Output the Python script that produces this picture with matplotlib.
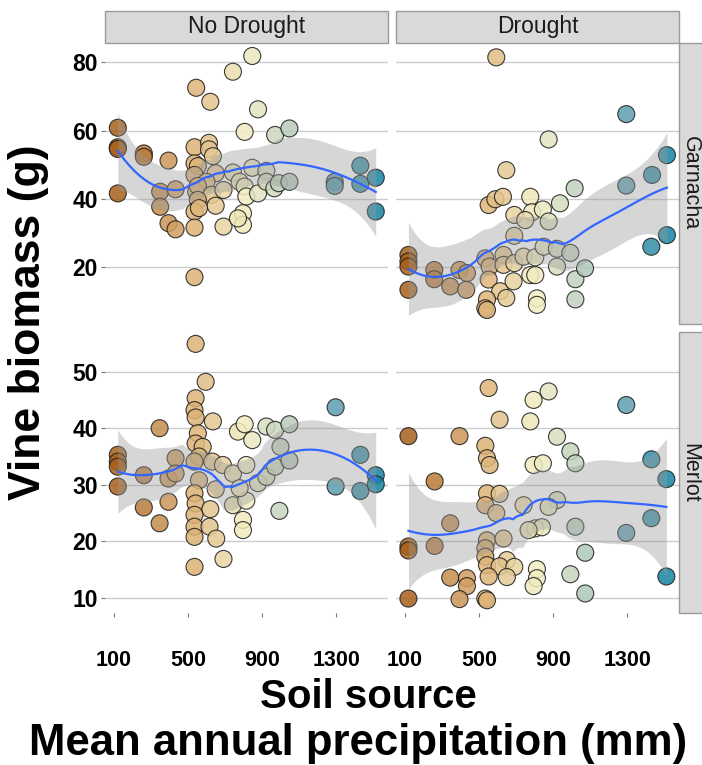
import numpy as np
import matplotlib
matplotlib.use("Agg")
import matplotlib.pyplot as plt
from matplotlib.colors import LinearSegmentedColormap
from matplotlib.patches import Rectangle

plt.rcParams['font.family'] = ['Liberation Sans', 'DejaVu Sans']

# ---------------- data ----------------
col_labels = ["No Drought", "Drought"]
row_labels = ["Garnacha", "Merlot"]
x_ticks = [100, 500, 900, 1300]
y_ticks_top = [20, 40, 60, 80]
y_ticks_bottom = [10, 20, 30, 40, 50]

# No Drought - Garnacha
nd_g_x = [123, 123, 123, 123, 263, 263, 396, 351, 434, 351, 396, 434,
          545, 621, 536, 614, 614, 635, 536, 554, 536, 650, 600, 545, 554, 627,
          554, 536, 650, 560, 536, 536, 692, 692,
          743, 847, 878, 806, 743, 779, 806, 847, 815, 878, 923, 923, 797, 797, 770,
          970, 1047, 966, 990, 1047, 1291, 1291, 1429, 1429, 1512, 1512]
nd_g_y = [60.8, 55.1, 54.6, 41.6, 53.3, 52.3, 51.2, 42.1, 42.8, 37.7, 32.9, 31.1,
          72.5, 68.4, 55.1, 56.4, 54.5, 52.5, 50.4, 49.6, 47.0, 47.5, 45.0, 42.1, 43.8, 41.2,
          39.7, 36.3, 38.0, 37.3, 31.6, 17.1, 42.6, 31.9,
          77.2, 81.8, 66.2, 59.6, 47.7, 45.0, 43.6, 49.1, 40.7, 41.6, 48.2, 45.0, 35.8, 32.4, 34.3,
          58.7, 60.6, 43.1, 44.6, 45.0, 45.0, 43.8, 49.7, 44.4, 46.2, 36.3]

# Drought - Garnacha
d_g_x = [594, 1294, 876, 648, 1513, 1433, 1294, 1016, 937, 1513, 1429,
         553, 589, 630, 777, 786, 845, 691, 750, 876, 691,
         535, 558, 633, 633, 553, 615, 544, 535, 544, 648, 691, 687,
         741, 804, 849, 920, 993, 921, 777, 804, 813, 813, 1020, 1072, 1020,
         121, 121, 121, 121, 260, 260, 346, 396, 436, 432]
d_g_y = [81.4, 64.8, 57.4, 48.4, 52.8, 47.0, 43.9, 43.1, 38.7, 29.4, 26.0,
         38.2, 39.9, 40.6, 40.6, 36.1, 36.9, 35.3, 33.8, 33.4, 29.2,
         22.6, 20.2, 23.6, 20.7, 16.4, 13.0, 10.6, 8.0, 7.5, 11.0, 21.2, 15.9,
         23.1, 22.9, 26.0, 25.4, 24.2, 20.2, 17.7, 17.7, 10.9, 9.0, 16.5, 19.7, 10.6,
         23.6, 21.7, 20.2, 13.4, 19.2, 16.5, 14.4, 19.2, 18.3, 13.4]

# No Drought - Merlot
nd_m_x = [123, 123, 123, 123, 263, 348, 263, 396, 348, 396, 434, 434,
          542, 596, 542, 536, 542, 635, 554, 542, 580, 560, 536, 632, 560, 536,
          542, 621, 536, 536, 617, 536, 653, 536, 692,
          689, 650, 743, 743, 770, 806, 847, 815, 815, 797, 797, 779, 878,
          923, 923, 970, 1047, 999, 970, 1047, 993,
          1296, 1296, 1429, 1429, 1512, 1512]
nd_m_y = [35.3, 34.1, 33.2, 29.7, 31.7, 40.0, 26.0, 27.0, 23.2, 31.1, 34.7, 32.0,
          54.9, 48.2, 45.3, 43.2, 41.9, 41.2, 39.1, 37.3, 36.7, 35.0, 34.1, 34.1, 30.8, 28.5,
          26.7, 25.7, 24.7, 22.6, 22.6, 20.8, 20.5, 15.5, 16.9,
          33.5, 29.2, 32.0, 26.4, 39.4, 40.7, 37.9, 33.5, 27.2, 23.8, 22.0, 29.4, 30.3,
          40.3, 31.4, 39.7, 40.7, 36.7, 33.2, 34.3, 25.4,
          43.7, 29.7, 35.3, 28.9, 31.7, 30.1]

# Drought - Merlot
d_m_x = [121, 121, 121, 121, 262, 346, 262, 396, 346, 436, 436, 396,
         553, 612, 535, 544, 558, 544, 612, 535, 594, 544, 633, 535, 651, 535,
         544, 612, 691, 651, 553, 535, 544,
         795, 876, 777, 795, 845, 741, 804, 840, 768, 921, 876, 813, 813, 795,
         921, 993, 1020, 1020, 1073, 993, 1073,
         1294, 1294, 1429, 1429, 1510, 1510]
d_m_y = [38.6, 19.1, 18.4, 9.9, 30.6, 23.2, 19.2, 38.6, 13.6, 13.5, 12.1, 9.8,
         47.1, 41.5, 36.9, 34.7, 33.5, 28.5, 28.4, 26.4, 25.0, 20.2, 20.5, 18.8, 16.7, 17.3,
         15.8, 15.6, 15.5, 13.7, 13.8, 9.9, 9.6,
         45.0, 46.5, 41.2, 33.5, 33.8, 26.4, 22.3, 22.5, 22.0, 27.3, 26.1, 15.1, 13.5, 12.1,
         38.5, 35.9, 33.8, 22.6, 18.0, 14.2, 10.8,
         44.1, 21.5, 34.5, 24.1, 31.0, 13.8]

panels = {
    (0, 0): (nd_g_x, nd_g_y), (0, 1): (d_g_x, d_g_y),
    (1, 0): (nd_m_x, nd_m_y), (1, 1): (d_m_x, d_m_y),
}

# ---------------- loess (span .75, degree 2) ----------------
def loess_fit(x, y, xs, span=0.75):
    x = np.asarray(x, float); y = np.asarray(y, float)
    n = len(x); q = int(np.floor(n * span))
    def rows(pts):
        L = np.zeros((len(pts), n))
        for i, x0 in enumerate(pts):
            d = np.abs(x - x0)
            h = np.sort(d)[q - 1] * 1.0000001
            w = np.clip(1 - (d / h) ** 3, 0, None) ** 3
            X = np.column_stack([np.ones(n), x - x0, (x - x0) ** 2])
            XtW = X.T * w
            A = XtW @ X
            L[i] = np.linalg.solve(A, XtW)[0]
        return L
    Ld = rows(x)
    res = y - Ld @ y
    IL = np.eye(n) - Ld
    delta1 = np.trace(IL.T @ IL)
    sigma = np.sqrt(np.sum(res ** 2) / delta1)
    Ls = rows(xs)
    fit = Ls @ y
    se = sigma * np.sqrt(np.sum(Ls ** 2, axis=1))
    return fit, se

cmap = LinearSegmentedColormap.from_list(
    "prec", [(0.0, '#a65e1a'), (0.3, '#dcb175'), (0.5, '#f2eec2'),
             (0.66, '#bccfbd'), (0.85, '#5a9db0'), (1.0, '#1684a3')])

# ---------------- layout ----------------
W, H = 702, 765
fig = plt.figure(figsize=(W / 100, H / 100), dpi=100)

def rect(x0, y0, x1, y1):
    return [x0 / W, 1 - y1 / H, (x1 - x0) / W, (y1 - y0) / H]

cols = [(105, 388), (396, 679)]
rows_px = [(43, 324), (332, 613)]
ylims = [(3.4, 85.6), (7.35, 57.0)]
yticks = [y_ticks_top, y_ticks_bottom]
xlim = (54, 1578)

for (r, c), (px, py) in panels.items():
    ax = fig.add_axes(rect(cols[c][0], rows_px[r][0], cols[c][1], rows_px[r][1]))
    px = np.asarray(px, float); py = np.asarray(py, float)
    ax.scatter(px, py, c=px, cmap=cmap, vmin=110, vmax=1515, s=150,
               edgecolors='#1a1a1a', linewidths=0.8, alpha=0.85, zorder=3)
    xs = np.linspace(px.min(), px.max(), 80)
    fit, se = loess_fit(px, py, xs)
    ax.fill_between(xs, fit - 2.0 * se, fit + 2.0 * se, color='#999999',
                    alpha=0.4, lw=0, zorder=4)
    ax.plot(xs, fit, color='#3366ff', lw=1.6, zorder=5)
    ax.set_xlim(*xlim)
    ax.set_ylim(*ylims[r])
    ax.set_yticks(yticks[r])
    ax.set_xticks(x_ticks)
    ax.grid(axis='y', color='#cccccc', lw=1.0, zorder=0)
    ax.set_axisbelow(True)
    for s in ax.spines.values():
        s.set_visible(False)
    ax.tick_params(axis='y', length=3, color='#777777', width=0.8,
                   labelsize=16.5, pad=2, left=(c == 0), labelleft=(c == 0))
    ax.tick_params(axis='x', length=3, color='#777777', width=0.8,
                   labelsize=15.5, pad=24, bottom=(r == 1), labelbottom=(r == 1))
    for lab in ax.get_yticklabels() + ax.get_xticklabels():
        lab.set_fontweight('bold')

# strips
for c, lab in enumerate(col_labels):
    x0, x1 = cols[c]
    fig.add_artist(Rectangle((x0 / W, 1 - 43 / H), (x1 - x0) / W, 32 / H,
                             transform=fig.transFigure, facecolor='#d9d9d9',
                             edgecolor='#9a9a9a', lw=1.0))
    fig.text((x0 + x1) / 2 / W, 1 - 27 / H, lab, ha='center', va='center',
             fontsize=16.5, color='#1a1a1a')
for r, lab in enumerate(row_labels):
    y0, y1 = rows_px[r]
    fig.add_artist(Rectangle((679 / W, 1 - y1 / H), 34 / W, (y1 - y0) / H,
                             transform=fig.transFigure, facecolor='#d9d9d9',
                             edgecolor='#9a9a9a', lw=1.0))
    fig.text(690 / W, 1 - (y0 + y1) / 2 / H, lab, ha='center', va='center',
             rotation=-90, fontsize=15.5, color='#1a1a1a')

# axis titles
fig.text(29 / W, 1 - 322 / H, "Vine biomass (g)", rotation=90, ha='center',
         va='center', fontsize=32, fontweight='bold')
fig.text(368 / W, 1 - 697 / H, "Soil source", ha='center', va='center',
         fontsize=29, fontweight='bold')
fig.text(358 / W, 1 - 744 / H, "Mean annual precipitation (mm)", ha='center',
         va='center', fontsize=31.5, fontweight='bold')

fig.savefig("out.png", dpi=100)
